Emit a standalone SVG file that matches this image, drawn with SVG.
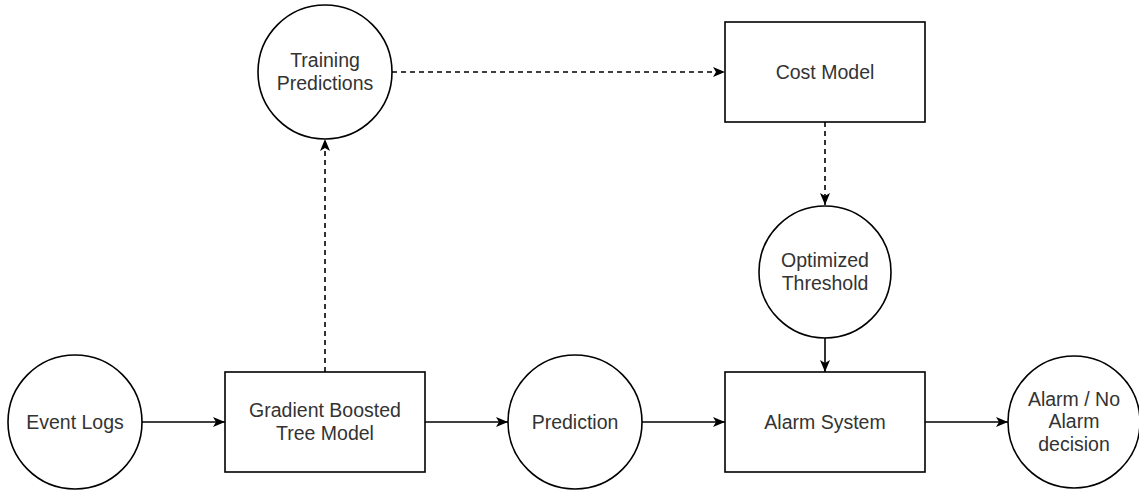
<svg xmlns="http://www.w3.org/2000/svg" width="1139" height="490" viewBox="0 0 1139 490">
  <style>
    .shape { fill: #ffffff; stroke: #000000; stroke-width: 1.6; }
    .label { font-family: "Liberation Sans", Arial, Helvetica, sans-serif; font-size: 19.5px; fill: #333333; text-anchor: middle; }
    .edge { fill: none; stroke: #000000; stroke-width: 1.6; }
    .dashed { stroke-dasharray: 5 4; }
  </style>
  <defs>
    <marker id="arrow" markerUnits="userSpaceOnUse" markerWidth="12" markerHeight="12" viewBox="0 0 12 12" refX="12" refY="6" orient="auto">
      <path d="M0,1 L12,6 L0,11 L3,6 Z" fill="#000000"/>
    </marker>
  </defs>
  <rect width="1139" height="490" fill="#ffffff"/>

  <!-- connectors -->
  <g id="connectors">
    <line class="edge" x1="142" y1="422" x2="225" y2="422" marker-end="url(#arrow)"/>
    <line class="edge" x1="425" y1="422" x2="508" y2="422" marker-end="url(#arrow)"/>
    <line class="edge" x1="642" y1="422" x2="725" y2="422" marker-end="url(#arrow)"/>
    <line class="edge" x1="925" y1="422" x2="1008" y2="422" marker-end="url(#arrow)"/>
    <line class="edge dashed" x1="325" y1="372" x2="325" y2="139" marker-end="url(#arrow)"/>
    <line class="edge dashed" x1="392" y1="72" x2="725" y2="72" marker-end="url(#arrow)"/>
    <line class="edge dashed" x1="825" y1="122" x2="825" y2="205" marker-end="url(#arrow)"/>
    <line class="edge" x1="825" y1="338" x2="825" y2="372" marker-end="url(#arrow)"/>
  </g>

  <!-- nodes -->
  <g id="event-logs">
    <circle class="shape" cx="75" cy="422" r="67"/>
    <text class="label" x="75" y="429">Event Logs</text>
  </g>
  <g id="gradient-boosted-tree-model">
    <rect class="shape" x="225" y="372" width="200" height="100"/>
    <text class="label" x="325" y="417">Gradient Boosted</text>
    <text class="label" x="325" y="440">Tree Model</text>
  </g>
  <g id="prediction">
    <circle class="shape" cx="575" cy="422" r="67"/>
    <text class="label" x="575" y="429">Prediction</text>
  </g>
  <g id="alarm-system">
    <rect class="shape" x="725" y="372" width="200" height="100"/>
    <text class="label" x="825" y="429">Alarm System</text>
  </g>
  <g id="alarm-decision">
    <circle class="shape" cx="1074" cy="422" r="66"/>
    <text class="label" x="1074" y="406">Alarm / No</text>
    <text class="label" x="1074" y="428">Alarm</text>
    <text class="label" x="1074" y="451">decision</text>
  </g>
  <g id="training-predictions">
    <circle class="shape" cx="325" cy="72" r="67"/>
    <text class="label" x="325" y="67">Training</text>
    <text class="label" x="325" y="90">Predictions</text>
  </g>
  <g id="cost-model">
    <rect class="shape" x="725" y="22" width="200" height="100"/>
    <text class="label" x="825" y="79">Cost Model</text>
  </g>
  <g id="optimized-threshold">
    <circle class="shape" cx="825" cy="272" r="66"/>
    <text class="label" x="825" y="267">Optimized</text>
    <text class="label" x="825" y="290">Threshold</text>
  </g>
</svg>
